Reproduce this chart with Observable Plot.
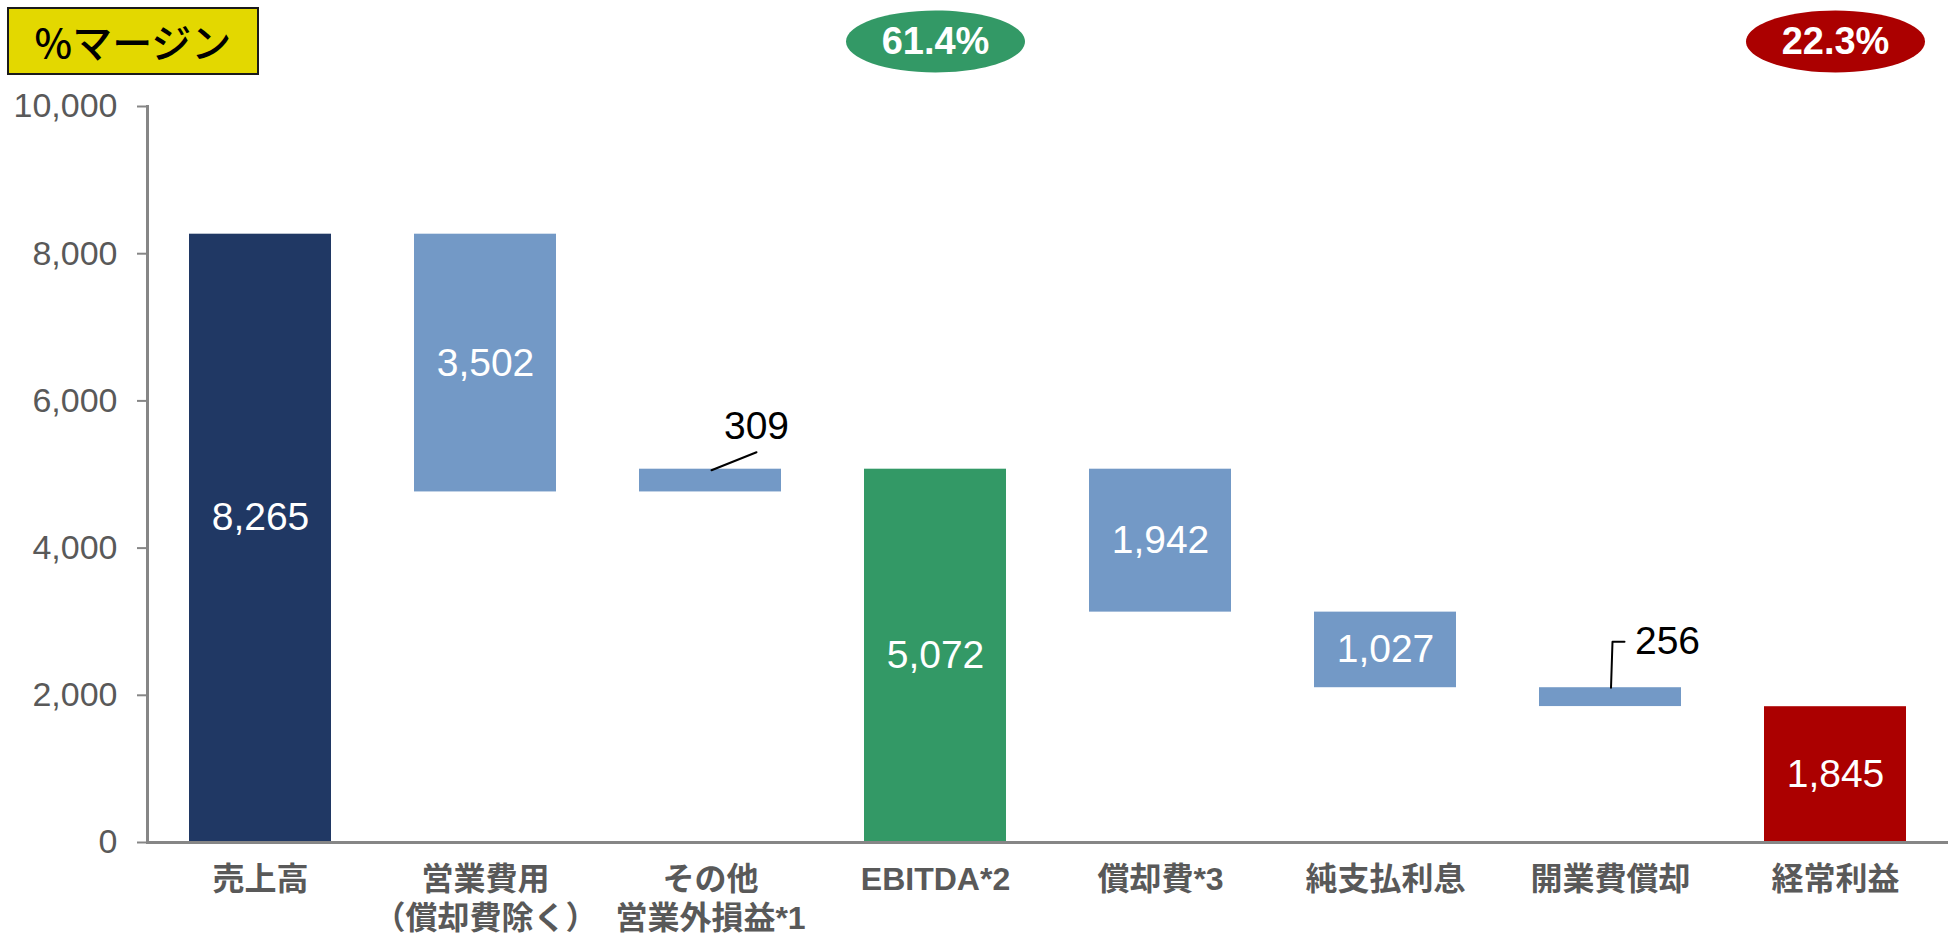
<!DOCTYPE html>
<html><head><meta charset="utf-8">
<script src="https://cdn.jsdelivr.net/npm/d3@7"></script>
<script src="https://cdn.jsdelivr.net/npm/@observablehq/plot@0.6"></script>
<style>
body{margin:0;background:#fff;}
#wrap{position:relative;width:1954px;height:938px;}
#badge{position:absolute;z-index:2;left:7px;top:7px;width:248px;height:64px;background:#E3D800;border:2px solid #1a1a1a;font-family:"Noto Sans CJK JP";font-weight:500;font-size:40px;display:flex;align-items:center;justify-content:center;color:#000;}
</style></head><body><div id="wrap"><div id="badge">%マージン</div></div>
<script>
const categories = ["売上高","営業費用\n（償却費除く）","その他\n営業外損益*1","EBITDA*2","償却費*3","純支払利息","開業費償却","経常利益"];
const values = [8265, 3502, 309, 5072, 1942, 1027, 256, 1845];
const kinds = ["total","decrease","increase","total","decrease","decrease","decrease","total"];
const barColors = ["#203864","#7399C6","#7399C6","#339966","#7399C6","#7399C6","#7399C6","#AB0000"];
const labelOutside = [false,false,true,false,false,false,true,false];
const yTicks = [0,2000,4000,6000,8000,10000];
const marginCategories = ["EBITDA*2","経常利益"];
const marginLabels = ["61.4%","22.3%"];
const marginColors = ["#339966","#AB0000"];

let running = 0;
const rows = categories.map((c,i)=>{
  const v = values[i], k = kinds[i];
  let y1,y2;
  if (k==="total"){ y1=0; y2=v; running=v; }
  else if (k==="decrease"){ y1=running-v; y2=running; running-=v; }
  else { y1=running; y2=running+v; running+=v; }
  return {category:c, value:v, y1, y2, mid:(y1+y2)/2, color:barColors[i], label:d3.format(",")(v), outside:labelOutside[i], i};
});
const marginRows = marginCategories.map((c,i)=>({category:c, label:marginLabels[i], color:marginColors[i]}));

const ellipse = {draw(ctx){
  const rx=89.5, ry=31, k=0.5523;
  ctx.moveTo(rx,0);
  ctx.bezierCurveTo(rx,ry*k,rx*k,ry,0,ry);
  ctx.bezierCurveTo(-rx*k,ry,-rx,ry*k,-rx,0);
  ctx.bezierCurveTo(-rx,-ry*k,-rx*k,-ry,0,-ry);
  ctx.bezierCurveTo(rx*k,-ry,rx,-ry*k,rx,0);
  ctx.closePath();
}};
const leaderSlant = {draw(ctx){ ctx.moveTo(1,1); ctx.lineTo(46,-17); }};
const leaderElbow = {draw(ctx){ ctx.moveTo(0.5,0); ctx.lineTo(2,-46); ctx.lineTo(14,-46); }};

const inside = rows.filter(d=>!d.outside);
const font = "Liberation Sans";
const plot = Plot.plot({
  width:1954, height:938,
  marginTop:106, marginRight:6, marginBottom:96, marginLeft:147,
  style:{background:"#fff", fontFamily:font, overflow:"visible"},
  x:{domain:categories, paddingInner:0.37, paddingOuter:0.185, label:null},
  y:{domain:[0,10000], label:null},
  marks:[
    Plot.barY(rows, {x:"category", y1:"y1", y2:"y2", fill:"color"}),
    Plot.ruleY([0], {stroke:"#868686", strokeWidth:3}),
    Plot.frame({anchor:"left", stroke:"#868686", strokeWidth:3}),
    Plot.axisY({ticks:yTicks, tickFormat:d3.format(","), tickSize:10, tickPadding:20, stroke:"#868686", strokeWidth:2, fill:"#595959", fontSize:34, fontFamily:font, label:null}),
    Plot.axisX({tickSize:0, tickPadding:20, fill:"#595959", fontSize:32, fontWeight:"bold", fontFamily:'"Liberation Sans","Noto Sans CJK JP"', lineHeight:1.22, label:null}),
    Plot.text(inside.filter(d=>d.i===0), {x:"category", y:"mid", text:"label", fill:"white", fontSize:39, dy:-21}),
    Plot.text(inside.filter(d=>d.i!==0), {x:"category", y:"mid", text:"label", fill:"white", fontSize:39}),
    Plot.text(rows.filter(d=>d.i===2), {x:"category", y:"y2", text:"label", fill:"black", fontSize:39, dx:46, dy:-43}),
    Plot.text(rows.filter(d=>d.i===6), {x:"category", y:"y2", text:"label", fill:"black", fontSize:39, dx:57, dy:-46}),
    Plot.vector(rows.filter(d=>d.i===2), {x:"category", y:"y2", anchor:"start", length:20, shape:leaderSlant, stroke:"black", strokeWidth:2}),
    Plot.vector(rows.filter(d=>d.i===6), {x:"category", y:"y2", anchor:"start", length:20, shape:leaderElbow, stroke:"black", strokeWidth:2, fill:"none"}),
    Plot.dot(marginRows, {x:"category", frameAnchor:"top", dy:-65, symbol:ellipse, fill:"color", stroke:"none"}),
    Plot.text(marginRows, {x:"category", frameAnchor:"top", lineAnchor:"middle", dy:-65, text:"label", fill:"white", fontWeight:"bold", fontSize:38})
  ]
});
document.getElementById("wrap").appendChild(plot);
</script>
</body></html>
